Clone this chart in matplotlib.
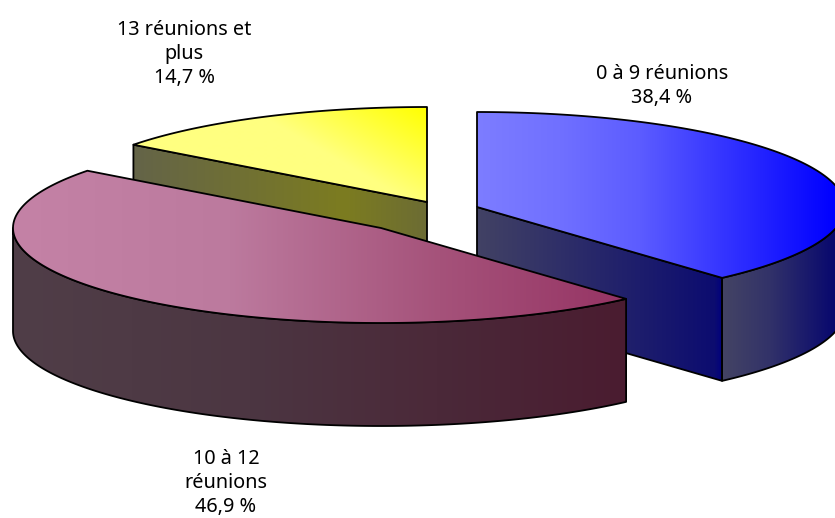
import numpy as np
import matplotlib
matplotlib.use('Agg')
from matplotlib import pyplot as plt
from matplotlib.patches import Polygon

categories = ['0 à 9 réunions', '10 à 12\nréunions', '13 réunions et\nplus']
shares = [38.4, 46.9, 14.7]
share_labels = ['38,4 %', '46,9 %', '14,7 %']

# exploded pie centres, in pixels
centres = [(477, 207), (381, 228), (427, 202)]
RX, RY = 368, 95
DEPTH = 103
label_pos = [(662, 86), (226, 483), (184, 54)]

plt.rcParams['font.family'] = ['Noto Sans', 'DejaVu Sans']
fig = plt.figure(figsize=(8.35, 5.18), dpi=100)
ax = fig.add_axes([0, 0, 1, 1])
ax.set_xlim(0, 835)
ax.set_ylim(518, 0)
ax.axis('off')
layer = [1]


def rim(i, a0, a1):
    # points on the ellipse, angles clockwise from 12 o'clock
    t = np.radians(np.linspace(a0, a1, 200))
    cx, cy = centres[i]
    return np.c_[cx + RX*np.sin(t), cy - RY*np.cos(t)]


def fill(pts, stops, colours, direction=(1, 0)):
    # polygon with a linear gradient, clipped image + black outline
    grid_x, grid_y = np.meshgrid(np.arange(0, 836), np.arange(0, 519))
    pos = grid_x*direction[0] + grid_y*direction[1]
    colours = np.array(colours)/255
    img = np.dstack([np.interp(pos, stops, colours[:, k]) for k in range(3)])
    im = ax.imshow(img, extent=(0, 835, 518, 0), aspect='auto', interpolation='bilinear',
                   zorder=layer[0])
    patch = Polygon(pts, closed=True, fc='none', ec='black', lw=1.3, joinstyle='round',
                    zorder=layer[0] + 0.5)
    ax.add_patch(patch)
    im.set_clip_path(patch)
    layer[0] += 1


def down(pts):
    return pts + np.array([0, DEPTH])


edges = np.concatenate([[0], np.cumsum(shares)])*3.6

# yellow slice (back)
a0, a1 = edges[2], edges[3]
c = np.array(centres[2], float)
r = rim(2, a0, a1)
wall = np.vstack([r[0], c, down(c[None])[0], down(r[:1])[0]])
fill(wall, [135, 345, 427], [(100, 100, 72), (124, 124, 32), (108, 108, 52)])
top = np.vstack([c, r])
fill(top, [30, 120], [(255, 255, 128), (255, 255, 0)], direction=(0.5, -0.87))

# blue slice
a0, a1 = edges[0], edges[1]
c = np.array(centres[0], float)
r = rim(0, a0, a1)
wall = np.vstack([c, r[-1], down(r[-1:])[0], down(c[None])[0]])
fill(wall, [477, 715, 723], [(66, 66, 100), (12, 12, 112), (0, 0, 128)])
side = rim(0, 90, a1)
wall = np.vstack([side, down(side)[::-1]])
fill(wall, [723, 770, 835], [(68, 68, 100), (50, 50, 105), (8, 8, 110)])
top = np.vstack([c, r])
fill(top, [477, 560, 640, 835], [(125, 125, 255), (112, 112, 255), (92, 92, 255), (0, 0, 255)])

# magenta slice (front)
a0, a1 = edges[1], edges[2]
c = np.array(centres[1], float)
r = rim(1, a0, a1)
side = rim(1, a0, 270)
wall = np.vstack([side, down(side)[::-1]])
fill(wall, [13, 250, 625], [(80, 62, 72), (76, 54, 66), (74, 28, 48)])
top = np.vstack([c, r])
fill(top, [13, 230, 440, 625], [(196, 130, 166), (188, 122, 158), (165, 82, 122), (150, 52, 100)])

ax.set_xlim(0, 835)
ax.set_ylim(518, 0)

for name, share, (x, y) in zip(categories, share_labels, label_pos):
    ax.text(x, y, name + '\n' + share, ha='center', va='center', fontsize=14.3,
            color='black', linespacing=1.28, zorder=20)

fig.savefig('out.png', dpi=100)
